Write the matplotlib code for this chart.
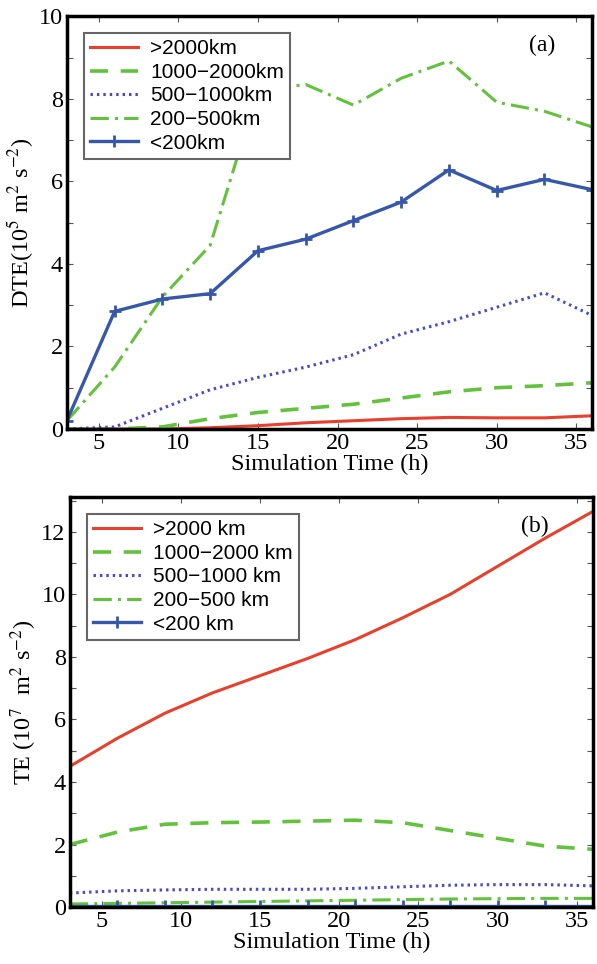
import numpy as np
import matplotlib.pyplot as plt
from matplotlib.ticker import MultipleLocator

# ---------- data ----------
hours = [3, 6, 9, 12, 15, 18, 21, 24, 27, 30, 33, 36]
labels_a = [">2000km", "1000\u22122000km", "500\u22121000km", "200\u2212500km", "<200km"]
labels_b = [">2000 km", "1000\u22122000 km", "500\u22121000 km", "200\u2212500 km", "<200 km"]

# panel (a): DTE, 10^5 m2 s-2
dte_gt2000 = [0.0, 0.0, 0.0, 0.03, 0.08, 0.15, 0.2, 0.25, 0.28, 0.27, 0.27, 0.32]
dte_1000_2000 = [0.0, 0.0, 0.05, 0.25, 0.4, 0.5, 0.6, 0.75, 0.9, 1.0, 1.05, 1.12]
dte_500_1000 = [0.0, 0.05, 0.5, 0.95, 1.25, 1.5, 1.8, 2.3, 2.6, 2.95, 3.3, 2.75]
dte_200_500 = [0.2, 1.5, 3.2, 4.45, 8.2, 8.35, 7.85, 8.5, 8.92, 7.92, 7.7, 7.32]
dte_lt200 = [0.2, 2.85, 3.15, 3.28, 4.32, 4.6, 5.05, 5.5, 6.28, 5.78, 6.05, 5.8]

# panel (b): TE, 10^7 m2 s-2
te_gt2000 = [4.5, 5.4, 6.2, 6.85, 7.4, 7.95, 8.55, 9.25, 10.0, 10.9, 11.8, 12.65]
te_1000_2000 = [2.0, 2.4, 2.65, 2.7, 2.72, 2.75, 2.78, 2.7, 2.45, 2.2, 1.95, 1.85]
te_500_1000 = [0.45, 0.52, 0.55, 0.57, 0.57, 0.57, 0.6, 0.65, 0.7, 0.72, 0.72, 0.68]
te_200_500 = [0.1, 0.12, 0.14, 0.16, 0.18, 0.2, 0.22, 0.24, 0.26, 0.27, 0.28, 0.28]
te_lt200 = [0.02, 0.02, 0.02, 0.02, 0.02, 0.02, 0.02, 0.02, 0.02, 0.02, 0.02, 0.02]

RED = "#e8402c"
GREEN = "#62c23c"
BLUE_DOT = "#4a4ac8"
BLUE = "#3657aa"

serif = ["Liberation Serif", "DejaVu Serif"]
sans = ["Liberation Sans", "DejaVu Sans"]
plt.rcParams["mathtext.fontset"] = "stix"


def draw_panel(ax, series, labels, ylim, ylabel, tag, tag_x):
    s1, s2, s3, s4, s5 = series
    ax.plot(hours, s1, color=RED, lw=2.2, label=labels[0])
    ax.plot(hours, s2, color=GREEN, lw=2.6, dashes=(5, 3.5), label=labels[1])
    ax.plot(hours, s3, color=BLUE_DOT, lw=2.2, dashes=(0.8, 1.3), label=labels[2])
    ax.plot(hours, s4, color=GREEN, lw=2.2, dashes=(6, 2, 1, 2), label=labels[3])
    ax.plot(hours, s5, color=BLUE, lw=2.4, marker="+", ms=8, mew=2, label=labels[4])

    ax.set_xlim(3, 36)
    ax.set_ylim(*ylim)
    ax.xaxis.set_major_locator(MultipleLocator(5))
    ax.yaxis.set_major_locator(MultipleLocator(2))
    ax.yaxis.set_minor_locator(MultipleLocator(1))
    ax.tick_params(which="both", direction="in", top=True, right=True,
                   length=4, width=0.8, color="#555555")
    ax.tick_params(which="major", pad=3)
    for sp in ax.spines.values():
        sp.set_linewidth(2.5)
    for t in ax.get_xticklabels() + ax.get_yticklabels():
        t.set_family(serif)
        t.set_fontsize(17.5)

    ax.set_xlabel("Simulation Time (h)", family=serif, fontsize=17.5, labelpad=0)
    ax.set_ylabel(ylabel, family=serif, fontsize=17.5, labelpad=2)
    ax.text(tag_x, 0.93, tag, transform=ax.transAxes, ha="center", va="center",
            family=serif, fontsize=17)

    leg = ax.legend(loc="upper left", bbox_to_anchor=(0.012, 0.985), fancybox=False,
                    framealpha=1, edgecolor="#666666", handlelength=2.3,
                    handletextpad=0.6, labelspacing=0.22, borderpad=0.3,
                    prop={"family": sans, "size": 15})
    leg.get_frame().set_linewidth(1.5)


fig = plt.figure(figsize=(5.97, 9.64), dpi=100)

ax1 = fig.add_axes([0.112, 0.555, 0.880, 0.428])
draw_panel(ax1, [dte_gt2000, dte_1000_2000, dte_500_1000, dte_200_500, dte_lt200],
           labels_a, (0, 10), "DTE(10$^5$ m$^2$ s$^{-2}$)", "(a)", 0.905)

ax2 = fig.add_axes([0.117, 0.059, 0.876, 0.425])
draw_panel(ax2, [te_gt2000, te_1000_2000, te_500_1000, te_200_500, te_lt200],
           labels_b, (0, 13.1), "TE (10$^7$  m$^2$ s$^{-2}$)", "(b)", 0.89)

fig.savefig("out.png", dpi=100)
